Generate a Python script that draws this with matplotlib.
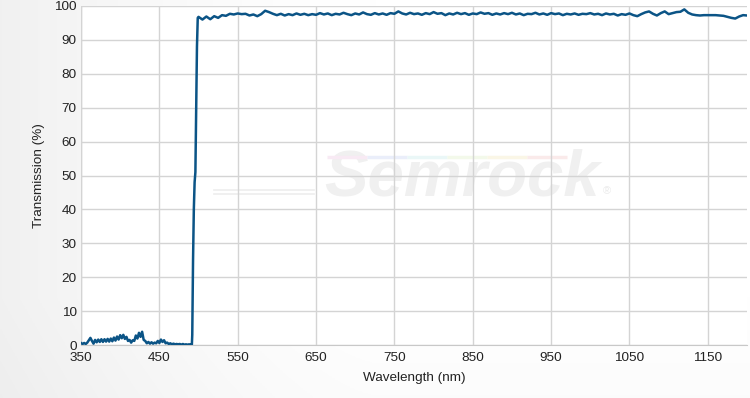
import numpy as np
import matplotlib
matplotlib.use("Agg")
import matplotlib.pyplot as plt

plt.rcParams['font.family'] = ['Liberation Sans', 'DejaVu Sans']

# --- DATA ---
# blocking region, 2 nm steps
wl_block = np.arange(350, 491, 2)
tr_block = [0.6, 0.3, 0.6, 0.3, 0.7, 1.4, 2.1, 1.2, 0.4, 1.5,
            0.8, 1.6, 0.9, 1.7, 0.9, 1.7, 1.0, 1.8, 1.0, 1.9,
            1.1, 2.2, 1.3, 2.5, 1.6, 2.9, 2.0, 3.0, 1.8, 2.4,
            1.2, 1.5, 0.7, 1.4, 1.2, 2.8, 1.9, 3.6, 2.4, 3.9,
            1.5, 1.2, 0.5, 0.9, 0.4, 0.8, 0.4, 0.7, 0.5, 1.2,
            0.6, 1.6, 0.9, 1.4, 0.5, 0.7, 0.3, 0.5, 0.2, 0.4,
            0.2, 0.3, 0.2, 0.3, 0.1, 0.3, 0.1, 0.2, 0.1, 0.2,
            0.1]

# edge
wl_edge = [491.5, 492, 493, 494, 495, 496, 497, 498, 499]
tr_edge = [0.1, 3.0, 25.0, 40.0, 48.0, 51.0, 70.0, 88.0, 96.5]

# passband, 5 nm steps
wl_pass = np.arange(500, 1201, 5)
tr_pass = [96.8, 96.0, 96.9, 96.1, 97.0, 96.5, 97.3, 97.1, 97.7, 97.5,
           97.8, 97.6, 97.7, 97.2, 97.5, 97.0, 97.6, 98.6, 98.2, 97.7,
           97.3, 97.7, 97.2, 97.6, 97.3, 97.8, 97.4, 97.7, 97.3, 97.6,
           97.4, 97.9, 97.5, 97.8, 97.3, 97.7, 97.5, 98.0, 97.6, 97.3,
           97.8, 97.5, 98.1, 97.6, 97.4, 97.9, 97.5, 97.8, 97.4, 97.9,
           97.7, 98.4, 97.8, 97.5, 98.0, 97.6, 97.8, 97.4, 97.9, 97.6,
           98.2, 97.7, 97.9, 97.3, 97.8, 97.5, 98.0, 97.6, 97.9, 97.4,
           97.8, 97.6, 98.1, 97.7, 97.9, 97.4, 97.8, 97.5, 97.9, 97.6,
           98.0, 97.5, 97.8, 97.3, 97.7, 97.6, 98.0, 97.5, 97.8, 97.4,
           97.9, 97.6, 97.8, 97.3, 97.7, 97.5, 97.8, 97.4, 97.7, 97.6,
           97.9, 97.5, 97.7, 97.3, 97.8, 97.5, 97.7, 97.2, 97.6, 97.4,
           97.8, 97.3, 97.0, 97.6, 98.1, 98.4, 97.7, 97.2, 97.9, 98.4,
           97.6, 97.9, 98.2, 98.3, 99.0, 98.0, 97.5, 97.3, 97.2, 97.3,
           97.3, 97.3, 97.3, 97.2, 97.1, 96.8, 96.5, 96.3, 96.9, 97.3,
           97.2]

x_ticks = [350, 450, 550, 650, 750, 850, 950, 1050, 1150]
y_ticks = [0, 10, 20, 30, 40, 50, 60, 70, 80, 90, 100]

wl = np.concatenate([wl_block, wl_edge, wl_pass])
tr = np.concatenate([tr_block, tr_edge, tr_pass])

# --- FIGURE ---
fig = plt.figure(figsize=(7.5, 3.98), dpi=100)

# soft grey background gradient
bg = fig.add_axes([0, 0, 1, 1], zorder=-10)
gx = np.linspace(0, 1, 300)
gy = np.linspace(0, 1, 160)
GX, GY = np.meshgrid(gx, gy)
shade = 1 - 0.055 * np.clip(1 - GX / 0.5, 0, 1) ** 1.5 - 0.012 * np.clip(1 - GY / 0.25, 0, 1)
bg.imshow(np.dstack([shade] * 3), extent=[0, 1, 0, 1], aspect='auto', origin='lower')
bg.axis('off')

ax = fig.add_axes([81 / 750, 53 / 398, 666 / 750, 339 / 398])
ax.set_facecolor('white')

# watermark
ax.text(0.572, 0.49, 'Semrock', transform=ax.transAxes, fontsize=47,
        fontweight='bold', style='italic', color='#f0f0f0',
        ha='center', va='center', zorder=0.5)
ax.text(0.79, 0.455, '®', transform=ax.transAxes, fontsize=8,
        color='#ebebeb', ha='center', va='center', zorder=0.5)
ax.plot([0.2, 0.35], [0.458, 0.458], transform=ax.transAxes, color='#ededed', lw=1.2, zorder=0.5)
ax.plot([0.2, 0.35], [0.446, 0.446], transform=ax.transAxes, color='#ededed', lw=1.2, zorder=0.5)
rainbow = ['#f8eaf4', '#eaeefa', '#eaf7f7', '#f3f9ea', '#faf6e6', '#faeaea']
for i, c in enumerate(rainbow):
    ax.plot([0.37 + i * 0.06, 0.43 + i * 0.06], [0.555, 0.555], transform=ax.transAxes,
            color=c, lw=2.5, zorder=0.5, solid_capstyle='butt')

ax.plot(wl, tr, color='#0b5486', lw=1.8, zorder=3)

ax.set_xlim(350, 1200)
ax.set_ylim(0, 100)
ax.set_xticks(x_ticks)
ax.set_yticks(y_ticks)
ax.grid(True, color='#d4d4d4', lw=1)
ax.set_axisbelow(True)
for side in ['top', 'right', 'left']:
    ax.spines[side].set_visible(False)
ax.spines['bottom'].set_color('#c8c8c8')
ax.axvline(350, color='#d4d4d4', lw=1, zorder=1)
ax.tick_params(length=0, labelsize=9.7, colors='#222222', pad=3)
ax.tick_params(axis='x', pad=5)

ax.set_xlabel('Wavelength (nm)', fontsize=9.7, color='#222222', labelpad=6)
ax.set_ylabel('Transmission (%)', fontsize=9.7, color='#222222', labelpad=7)

fig.savefig('out.png', dpi=100)
